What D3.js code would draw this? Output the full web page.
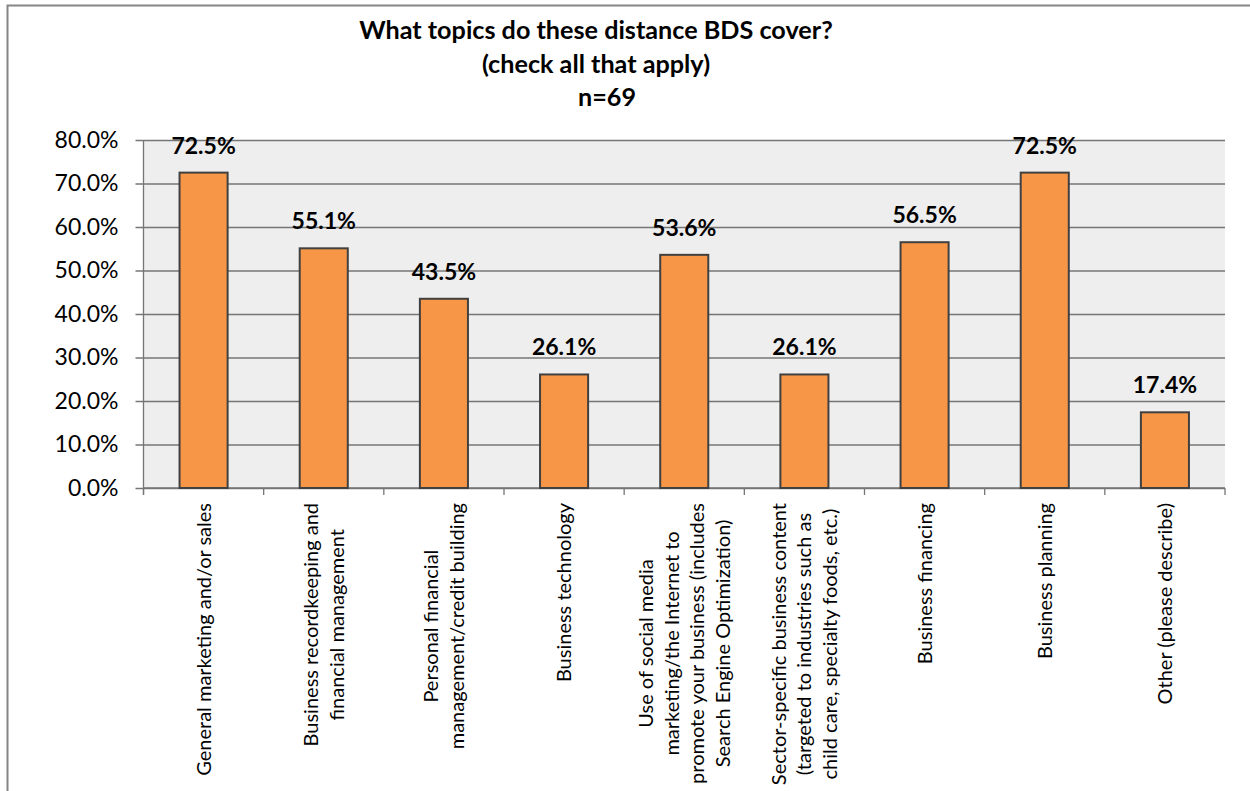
<!DOCTYPE html>
<html>
<head>
<meta charset="utf-8">
<script src="https://cdn.jsdelivr.net/npm/d3@7"></script>
<style>
  html, body { margin: 0; padding: 0; background: #fff; }
  svg { display: block; }
</style>
</head>
<body>
<svg id="chart" width="1250" height="791"></svg>
<script>
// Survey answers: share of respondents covering each topic
const categories = [
  ["General marketing and/or sales"],
  ["Business recordkeeping and", "financial management"],
  ["Personal financial", "management/credit building"],
  ["Business technology"],
  ["Use of social media", "marketing/the Internet to", "promote your business (includes", "Search Engine Optimization)"],
  ["Sector-specific business content", "(targeted to industries such as", "child care, specialty foods, etc.)"],
  ["Business financing"],
  ["Business planning"],
  ["Other (please describe)"]
];
const values = [72.5, 55.1, 43.5, 26.1, 53.6, 26.1, 56.5, 72.5, 17.4];
const yTicks = [0, 10, 20, 30, 40, 50, 60, 70, 80];
const titleLines = ["What topics do these distance BDS cover?", "(check all that apply)", "n=69"];

const FONT = "Lato, 'Open Sans', sans-serif";
const svg = d3.select("#chart");

// chart frame
svg.append("rect")
  .attr("x", 7.5).attr("y", 5.5)
  .attr("width", 1300).attr("height", 900)
  .attr("fill", "#fff").attr("stroke", "#868686").attr("stroke-width", 2);

const plot = { left: 143.5, right: 1225, top: 140, bottom: 488 };

const x = d3.scaleBand()
  .domain(d3.range(categories.length))
  .range([plot.left, plot.right])
  .paddingInner(0.6).paddingOuter(0.3);

const y = d3.scaleLinear().domain([0, 80]).range([plot.bottom, plot.top]);

// plot background
svg.append("rect")
  .attr("x", plot.left).attr("y", plot.top)
  .attr("width", plot.right - plot.left).attr("height", plot.bottom - plot.top)
  .attr("fill", "#eeeeee");

// horizontal gridlines with left ticks and labels
const yAxis = d3.axisLeft(y)
  .tickValues(yTicks)
  .tickSize(-(plot.right - plot.left) - 8)
  .tickPadding(16)
  .tickFormat(d => d.toFixed(1) + "%");

const gy = svg.append("g")
  .attr("transform", `translate(${plot.right},0)`)
  .call(yAxis);
gy.select(".domain").remove();
gy.selectAll(".tick line")
  .attr("x1", 0)
  .attr("x2", -(plot.right - plot.left) - 8)
  .attr("stroke", "#767676").attr("stroke-width", 1.3);
gy.selectAll(".tick text")
  .attr("x", -(plot.right - plot.left) - 25)
  .attr("font-family", FONT).attr("font-size", 23).attr("fill", "#000");

// vertical axis line
svg.append("line")
  .attr("x1", plot.left).attr("x2", plot.left)
  .attr("y1", plot.top).attr("y2", plot.bottom + 7)
  .attr("stroke", "#767676").attr("stroke-width", 1.3);

// category boundary ticks along the bottom
const step = x.step();
const boundaries = d3.range(categories.length + 1).map(i => plot.left + i * step);
svg.append("line")
  .attr("x1", plot.left).attr("x2", plot.right)
  .attr("y1", plot.bottom).attr("y2", plot.bottom)
  .attr("stroke", "#767676").attr("stroke-width", 1.3);
svg.append("g").selectAll("line")
  .data(boundaries)
  .join("line")
  .attr("x1", d => d).attr("x2", d => d)
  .attr("y1", plot.bottom).attr("y2", plot.bottom + 7)
  .attr("stroke", "#767676").attr("stroke-width", 1.3);

// bars
svg.append("g").selectAll("rect")
  .data(values)
  .join("rect")
  .attr("x", (d, i) => x(i))
  .attr("width", x.bandwidth())
  .attr("y", d => y(d))
  .attr("height", d => y(0) - y(d))
  .attr("fill", "#f79646")
  .attr("stroke", "#404040")
  .attr("stroke-width", 2);

// value labels
svg.append("g").selectAll("text")
  .data(values)
  .join("text")
  .attr("x", (d, i) => x(i) + x.bandwidth() / 2)
  .attr("y", d => y(d) - 19)
  .attr("text-anchor", "middle")
  .attr("font-family", FONT).attr("font-size", 23).attr("font-weight", "bold")
  .attr("fill", "#000")
  .text(d => d.toFixed(1) + "%");

// rotated category labels, block anchored just under the axis
const labelTop = 503;
const lineH = 25.5;
const catG = svg.append("g");
categories.forEach((lines, i) => {
  const cx = x(i) + x.bandwidth() / 2;
  const g = catG.append("g");
  const texts = lines.map((ln, j) =>
    g.append("text")
      .attr("font-family", FONT).attr("font-size", 20).attr("fill", "#000")
      .attr("text-anchor", "middle")
      .attr("dy", "0.35em")
      .text(ln));
  const maxW = d3.max(texts, t => t.node().getComputedTextLength());
  const midY = labelTop + maxW / 2;
  texts.forEach((t, j) => {
    const off = (j - (lines.length - 1) / 2) * lineH;
    t.attr("transform", `translate(${cx + off},${midY}) rotate(-90)`);
  });
});

// title
const titleX = [596, 596, 607];
const titleY = [39, 73, 106];
svg.append("g").selectAll("text")
  .data(titleLines)
  .join("text")
  .attr("x", (d, i) => titleX[i])
  .attr("y", (d, i) => titleY[i])
  .attr("text-anchor", "middle")
  .attr("font-family", FONT).attr("font-size", 25.2).attr("font-weight", "bold")
  .attr("fill", "#000")
  .text(d => d);
</script>
</body>
</html>
